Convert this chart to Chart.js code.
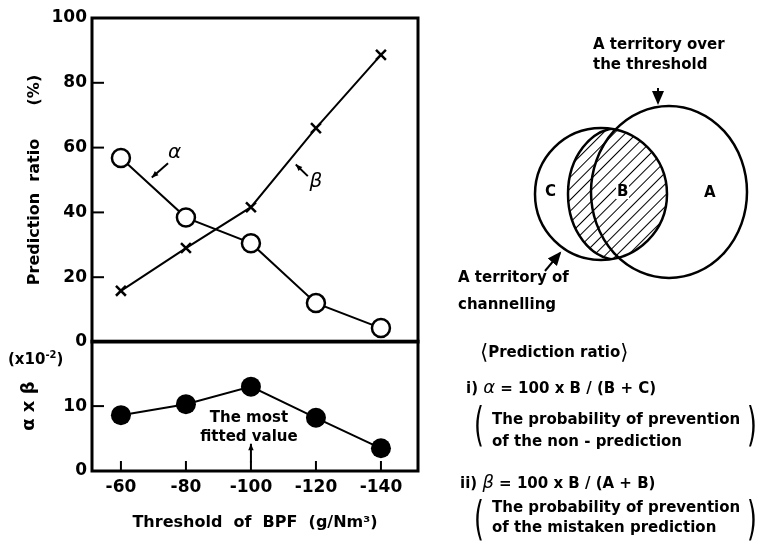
<!DOCTYPE html>
<html lang="en">
<head>
<meta charset="UTF-8">
<title>Prediction ratio</title>
<script src="https://cdn.jsdelivr.net/npm/chart.js@4.4.0/dist/chart.umd.min.js"></script>
<style>
  body { margin: 0; background: #fff; }
  #wrap { position: relative; width: 760px; height: 541px; overflow: hidden; font-family: "DejaVu Sans", sans-serif; font-weight: bold; color: #000; }
  canvas { position: absolute; left: 0; }
  .t { position: absolute; font-size: 15px; line-height: 1; white-space: pre; }
  .paren { position: absolute; font-size: 46px; font-weight: normal; line-height: 1; transform: scaleX(0.55); }
  .ang { font-size: 21px; font-weight: normal; vertical-align: -2px; }
</style>
</head>
<body>
<div id="wrap">
  <canvas id="ratioChart" width="440" height="360" style="top:0"></canvas>
  <canvas id="productChart" width="440" height="215" style="top:326px"></canvas>

  <div class="t" style="left:8px; top:350px;">(x10<sup style="font-size:10px">-2</sup>)</div>

  <svg style="position:absolute; left:0; top:0;" width="760" height="541">
    <defs>
      <pattern id="hatch" width="8" height="8" patternUnits="userSpaceOnUse" patternTransform="rotate(45)">
        <line x1="0" y1="0" x2="0" y2="8" stroke="#000" stroke-width="2"/>
      </pattern>
      <clipPath id="smallC"><ellipse cx="601" cy="194" rx="66" ry="66"/></clipPath>
      <marker id="head" markerWidth="8" markerHeight="8" refX="6" refY="4" orient="auto">
        <path d="M0,1 L7,4 L0,7 z" fill="#000"/>
      </marker>
    </defs>
    <ellipse cx="619" cy="194" rx="51" ry="66" fill="url(#hatch)" clip-path="url(#smallC)"/>
    <ellipse cx="619" cy="194" rx="51" ry="66" fill="none" stroke="#000" stroke-width="2.5" clip-path="url(#smallC)"/>
    <ellipse cx="669" cy="192" rx="78" ry="86" fill="none" stroke="#000" stroke-width="2.5"/>
    <ellipse cx="601" cy="194" rx="66" ry="66" fill="none" stroke="#000" stroke-width="2.5"/>
    <line x1="658" y1="88" x2="658" y2="103" stroke="#000" stroke-width="2" marker-end="url(#head)"/>
    <line x1="545" y1="271" x2="560" y2="253" stroke="#000" stroke-width="2" marker-end="url(#head)"/>
  </svg>

  <div class="t" style="left:593px; top:37px;">A territory over</div>
  <div class="t" style="left:593px; top:57px;">the threshold</div>
  <div class="t" style="left:545px; top:184px;">C</div>
  <div class="t" style="left:616px; top:184px; background:#fff; padding:0 1px;">B</div>
  <div class="t" style="left:704px; top:185px;">A</div>
  <div class="t" style="left:458px; top:270px;">A territory of</div>
  <div class="t" style="left:458px; top:297px;">channelling</div>

  <div class="t" style="left:480px; top:342px;"><span class="ang">⟨</span>Prediction ratio<span class="ang">⟩</span></div>
  <div class="t" style="left:466px; top:378px;">i) <span style="font-style:italic; font-size:18px; font-weight:normal">α</span> = 100 x B / (B + C)</div>
  <div class="paren" style="left:470px; top:401px;">(</div>
  <div class="t" style="left:492px; top:412px;">The probability of prevention</div>
  <div class="t" style="left:492px; top:434px;">of the non - prediction</div>
  <div class="paren" style="left:743px; top:401px;">)</div>
  <div class="t" style="left:460px; top:473px;">ii) <span style="font-style:italic; font-size:18px; font-weight:normal">β</span> = 100 x B / (A + B)</div>
  <div class="paren" style="left:470px; top:495px;">(</div>
  <div class="t" style="left:492px; top:500px;">The probability of prevention</div>
  <div class="t" style="left:492px; top:520px;">of the mistaken prediction</div>
  <div class="paren" style="left:743px; top:495px;">)</div>
</div>
<script>
// values
const thresholds = [-60, -80, -100, -120, -140];
const alphaRatio = [56.8, 38.4, 30.5, 12.0, 4.3];
const betaRatio = [15.8, 29.0, 41.6, 66.0, 88.6];
const alphaTimesBeta = [8.6, 10.3, 13.0, 8.2, 3.5];

const xTickValues = [-60, -80, -100, -120, -140];
const ratioTickValues = [0, 20, 40, 60, 80, 100];
const productTickValues = [0, 10];

const tickFont = { family: 'DejaVu Sans', size: 17, weight: 'bold' };
const titleFont = { family: 'DejaVu Sans', size: 16, weight: 'bold' };

var toPoints = function(xs, ys) {
    return xs.map(function(x, i) { return { x: x, y: ys[i] }; });
};

var setTicks = function(values) {
    return function(scale) {
        scale.ticks = values.map(function(v) { return { value: v }; });
    };
};

var arrow = function(ctx, x1, y1, x2, y2) {
    // line with a filled head at (x2, y2)
    var a = Math.atan2(y2 - y1, x2 - x1);
    ctx.beginPath();
    ctx.moveTo(x1, y1);
    ctx.lineTo(x2, y2);
    ctx.stroke();
    ctx.beginPath();
    ctx.moveTo(x2, y2);
    ctx.lineTo(x2 - 7 * Math.cos(a - 0.4), y2 - 7 * Math.sin(a - 0.4));
    ctx.lineTo(x2 - 7 * Math.cos(a + 0.4), y2 - 7 * Math.sin(a + 0.4));
    ctx.closePath();
    ctx.fill();
};

// frame round the plot area and ticks pointing inwards
const framePlugin = {
    id: 'frame',
    afterDraw: function(chart, args, opts) {
        const ctx = chart.ctx;
        const a = chart.chartArea;
        const xs = chart.scales.x, ys = chart.scales.y;
        ctx.save();
        ctx.strokeStyle = '#000';
        ctx.fillStyle = '#000';
        ctx.lineWidth = 3;
        ctx.strokeRect(a.left, a.top, a.right - a.left, a.bottom - a.top);
        ctx.lineWidth = 2;
        (opts.yTicks || []).forEach(function(v) {
            const py = ys.getPixelForValue(v);
            ctx.beginPath();
            ctx.moveTo(a.left, py);
            ctx.lineTo(a.left + 12, py);
            ctx.stroke();
        });
        (opts.xTicks || []).forEach(function(v) {
            const px = xs.getPixelForValue(v);
            ctx.beginPath();
            ctx.moveTo(px, a.bottom);
            ctx.lineTo(px, a.bottom - 10);
            ctx.stroke();
        });
        if (opts.notes) opts.notes(ctx, xs, ys);
        ctx.restore();
    }
};

const xScale = function(showAxis) {
    return {
        type: 'linear',
        display: showAxis,
        min: -151.4,
        max: -51.1,
        reverse: true,
        afterBuildTicks: setTicks(xTickValues),
        afterFit: function(s) { if (showAxis) s.height = 70; },
        grid: { display: false, drawTicks: false },
        border: { display: false },
        ticks: { color: '#000', font: tickFont, padding: 6, maxRotation: 0 },
        title: {
            display: showAxis,
            text: 'Threshold  of  BPF  (g/Nm³)',
            color: '#000',
            font: titleFont,
            padding: { top: 0, bottom: 9 }
        }
    };
};

const ratioChart = new Chart(document.getElementById('ratioChart').getContext('2d'), {
    type: 'line',
    data: {
        datasets: [{
            label: 'alpha',
            data: toPoints(thresholds, alphaRatio),
            borderColor: '#000',
            borderWidth: 2,
            pointStyle: 'circle',
            pointRadius: 9,
            pointBorderWidth: 2.5,
            pointBackgroundColor: '#fff',
            pointBorderColor: '#000'
        }, {
            label: 'beta',
            data: toPoints(thresholds, betaRatio),
            borderColor: '#000',
            borderWidth: 2,
            pointStyle: 'crossRot',
            pointRadius: 7,
            pointBorderWidth: 2.5,
            pointBorderColor: '#000'
        }]
    },
    options: {
        responsive: false,
        animation: false,
        layout: { autoPadding: false, padding: { top: 18, right: 22, bottom: 18, left: 0 } },
        plugins: {
            legend: { display: false },
            tooltip: { enabled: false },
            frame: {
                yTicks: [20, 40, 60, 80],
                notes: function(ctx, xs, ys) {
                    ctx.lineWidth = 2;
                    arrow(ctx, xs.getPixelForValue(-74.5), ys.getPixelForValue(55.2),
                               xs.getPixelForValue(-69.5), ys.getPixelForValue(50.8));
                    arrow(ctx, xs.getPixelForValue(-117.5), ys.getPixelForValue(51.2),
                               xs.getPixelForValue(-113.8), ys.getPixelForValue(54.8));
                    ctx.font = 'italic 20px "DejaVu Sans"';
                    ctx.textAlign = 'center';
                    ctx.textBaseline = 'middle';
                    ctx.fillText('α', xs.getPixelForValue(-76.5), ys.getPixelForValue(58.5));
                    ctx.fillText('β', xs.getPixelForValue(-120), ys.getPixelForValue(49.5));
                }
            }
        },
        scales: {
            x: xScale(false),
            y: {
                type: 'linear',
                min: 0,
                max: 100,
                afterBuildTicks: setTicks(ratioTickValues),
                afterFit: function(s) { s.width = 92; },
                grid: { display: false, drawTicks: false },
                border: { display: false },
                ticks: { color: '#000', font: tickFont, padding: 5 },
                title: {
                    display: true,
                    text: 'Prediction  ratio      (%)',
                    color: '#000',
                    font: titleFont,
                    padding: { top: 25, bottom: 0 }
                }
            }
        }
    },
    plugins: [framePlugin]
});

const productChart = new Chart(document.getElementById('productChart').getContext('2d'), {
    type: 'line',
    data: {
        datasets: [{
            label: 'alpha x beta',
            data: toPoints(thresholds, alphaTimesBeta),
            borderColor: '#000',
            borderWidth: 2,
            pointStyle: 'circle',
            pointRadius: 10,
            pointBorderWidth: 0,
            pointBackgroundColor: '#000'
        }]
    },
    options: {
        responsive: false,
        animation: false,
        layout: { autoPadding: false, padding: { top: 15, right: 22, bottom: 0, left: 0 } },
        plugins: {
            legend: { display: false },
            tooltip: { enabled: false },
            frame: {
                yTicks: [10],
                xTicks: xTickValues,
                notes: function(ctx, xs, ys) {
                    const px = xs.getPixelForValue(-100);
                    ctx.lineWidth = 2;
                    arrow(ctx, px, ys.getPixelForValue(1.3), px, ys.getPixelForValue(4.2));
                    ctx.font = 'bold 15px "DejaVu Sans"';
                    ctx.textAlign = 'center';
                    ctx.textBaseline = 'middle';
                    ctx.fillText('The most', px - 2, ys.getPixelForValue(8.1));
                    ctx.fillText('fitted value', px - 2, ys.getPixelForValue(5.2));
                }
            }
        },
        scales: {
            x: xScale(true),
            y: {
                type: 'linear',
                min: 0,
                max: 20,
                afterBuildTicks: setTicks(productTickValues),
                afterFit: function(s) { s.width = 92; },
                grid: { display: false, drawTicks: false },
                border: { display: false },
                ticks: { color: '#000', font: tickFont, padding: 5 },
                title: {
                    display: true,
                    text: 'α x β',
                    color: '#000',
                    font: { family: 'DejaVu Sans', size: 18, weight: 'bold' },
                    padding: { top: 19, bottom: 0 }
                }
            }
        }
    },
    plugins: [framePlugin]
});
</script>
</body>
</html>
